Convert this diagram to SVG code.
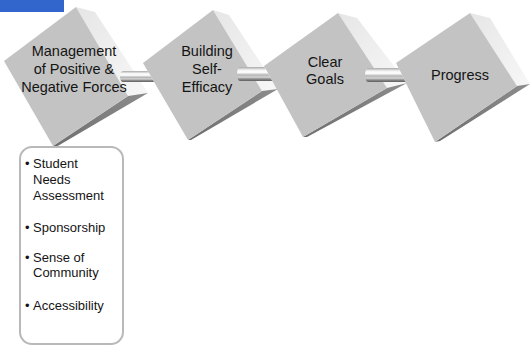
<svg xmlns="http://www.w3.org/2000/svg" width="530" height="347" viewBox="0 0 530 347">
  <defs>
    <linearGradient id="rod" x1="0" y1="0" x2="0" y2="1">
      <stop offset="0" stop-color="#a8a8a8"/>
      <stop offset="0.22" stop-color="#f4f4f4"/>
      <stop offset="0.38" stop-color="#ffffff"/>
      <stop offset="0.58" stop-color="#b4b4b4"/>
      <stop offset="0.72" stop-color="#d6d6d6"/>
      <stop offset="0.86" stop-color="#8a8a8a"/>
      <stop offset="1" stop-color="#5e5e5e"/>
    </linearGradient>
    <linearGradient id="sideLight" x1="0" y1="0" x2="1" y2="1">
      <stop offset="0" stop-color="#e6e6e6"/>
      <stop offset="1" stop-color="#f7f7f7"/>
    </linearGradient>
    <linearGradient id="sideDark" x1="1" y1="0" x2="0" y2="1">
      <stop offset="0" stop-color="#8c8c8c"/>
      <stop offset="1" stop-color="#6e6e6e"/>
    </linearGradient>
  </defs>
  <style>
    .front { fill: #c3c3c3; }
    .light { fill: url(#sideLight); }
    .dark { fill: url(#sideDark); }
    .rod { fill: url(#rod); }
    .label { font-family: "Liberation Sans", Arial, sans-serif; font-size: 14.5px; fill: #141414; text-anchor: middle; }
    .item { font-family: "Liberation Sans", Arial, sans-serif; font-size: 13px; fill: #141414; }
    .box { fill: #ffffff; stroke: #b9b9b9; stroke-width: 2; }
  </style>

  <rect x="0" y="0" width="64" height="12" fill="#3366cc"/>

  <!-- step blocks -->
  <g id="step-management">
    <polygon class="light" points="76,7 95,12 148,93 128,96"/>
    <polygon class="dark" points="128,96 148,93 56,147 53,146"/>
    <polygon class="front" points="76,7 4,61 53,146 128,96"/>
    <text class="label" x="74" y="56">Management</text>
    <text class="label" x="74" y="74">of Positive &amp;</text>
    <text class="label" x="74" y="92">Negative Forces</text>
  </g>

  <g id="step-self-efficacy">
    <polygon class="light" points="213,10 229,15 278,89 262,91"/>
    <polygon class="dark" points="262,91 278,89 191,140 188,140"/>
    <polygon class="front" points="213,10 143,63 188,140 262,91"/>
    <text class="label" x="207" y="56">Building</text>
    <text class="label" x="207" y="74">Self-</text>
    <text class="label" x="207" y="92">Efficacy</text>
  </g>

  <g id="step-goals">
    <polygon class="light" points="338,13 357,18 407,83 387,88"/>
    <polygon class="dark" points="387,88 407,83 307,137 303,137"/>
    <polygon class="front" points="338,13 264,66 303,137 387,88"/>
    <text class="label" x="325" y="67">Clear</text>
    <text class="label" x="325" y="84">Goals</text>
  </g>

  <g id="step-progress">
    <polygon class="light" points="470,13 490,18 530,84 517,86"/>
    <polygon class="dark" points="517,86 530,84 440,141 435,142"/>
    <polygon class="front" points="470,13 396,63 435,142 517,86"/>
    <text class="label" x="460" y="80">Progress</text>
  </g>

  <!-- rods joining the blocks; right ends follow the next block's edge -->
  <g id="connectors">
    <path class="rod" d="M123,71 L147.7,71 L154.1,82 L123,82 A3,5.5 0 0 1 123,71 Z"/>
    <path class="rod" d="M240,67 L264.5,67 L272.2,81 L240,81 A3,7 0 0 1 240,67 Z"/>
    <path class="rod" d="M368,68 L398.5,68 L405.4,82 L368,82 A3,7 0 0 1 368,68 Z"/>
  </g>

  <!-- details under the first step -->
  <g id="details">
    <rect class="box" x="20" y="147" width="103" height="197" rx="12" ry="12"/>
    <text class="item" x="25" y="168">•<tspan x="33">Student</tspan></text>
    <text class="item" x="33" y="184">Needs</text>
    <text class="item" x="33" y="200">Assessment</text>
    <text class="item" x="25" y="232">•<tspan x="33">Sponsorship</tspan></text>
    <text class="item" x="25" y="262">•<tspan x="33">Sense of</tspan></text>
    <text class="item" x="33" y="277">Community</text>
    <text class="item" x="25" y="310">•<tspan x="33">Accessibility</tspan></text>
  </g>
</svg>
